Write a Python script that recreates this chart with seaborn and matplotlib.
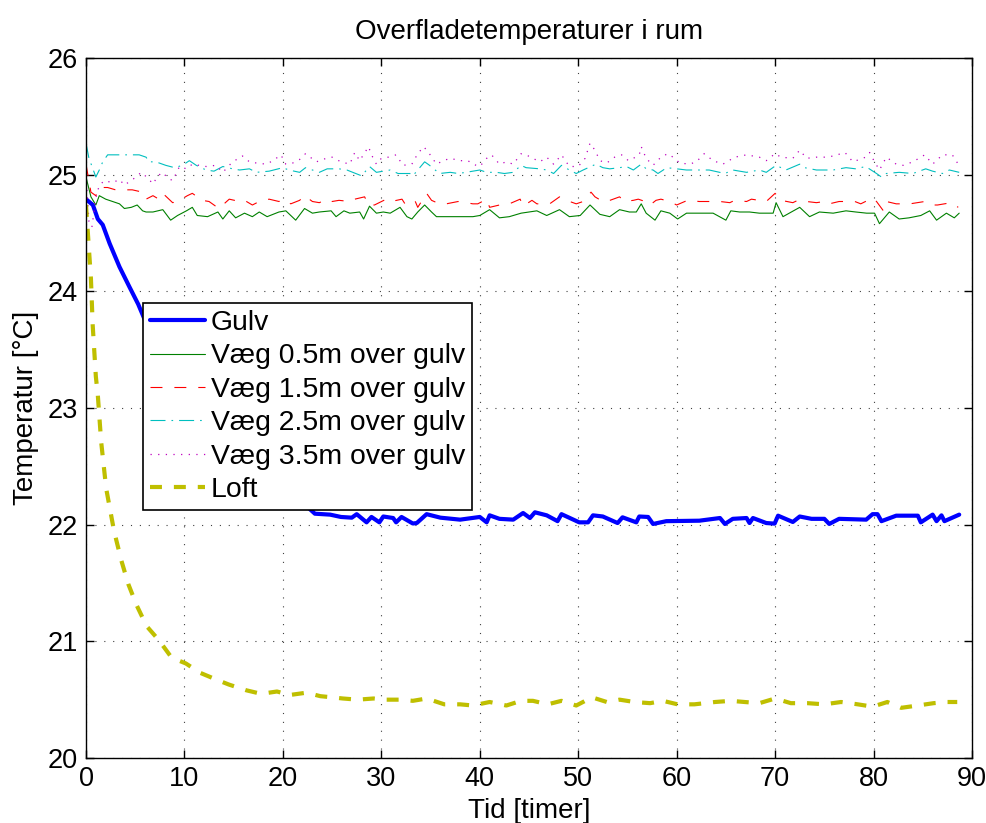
import matplotlib
matplotlib.use('Agg')
import matplotlib.pyplot as plt
import seaborn as sns
import pandas as pd

# ---------------- data ----------------
title = "Overfladetemperaturer i rum"
xlabel = "Tid [timer]"
ylabel = "Temperatur [°C]"
xticks = [0, 10, 20, 30, 40, 50, 60, 70, 80, 90]
yticks = [20, 21, 22, 23, 24, 25, 26]

gulv_x = [0, 0.7, 1.2, 1.7, 2.4, 3.4, 4.4, 5.3, 6, 7, 8, 9, 10, 11, 12, 13, 14, 15, 16, 17, 18, 19, 20,
          21, 22, 23.25, 24.8, 25.9, 27.0, 27.5, 28.5, 29.0, 29.8, 30.2, 31.2, 31.5, 32.05, 33.2, 33.6,
          34.6, 36.0, 38.0, 40.0, 40.7, 41.0, 42.0, 43.4, 44.4, 45.1, 45.6, 46.8, 47.9, 48.3, 50.1,
          51.0, 51.5, 52.5, 54.0, 54.5, 55.9, 56.2, 57.1, 57.6, 58.95, 62.3, 64.4, 64.9, 65.7, 67.1,
          67.4, 67.75, 69.1, 69.95, 70.3, 71.8, 72.5, 73.7, 75.0, 75.5, 76.5, 79.25, 79.9, 80.4, 80.8,
          82.3, 84.5, 84.8, 86.0, 86.4, 86.9, 87.2, 88.7]
gulv_y = [24.79, 24.74, 24.62, 24.57, 24.41, 24.21, 24.04, 23.89, 23.75, 23.57, 23.4, 23.24, 23.1,
          22.97, 22.86, 22.76, 22.67, 22.59, 22.52, 22.46, 22.4, 22.34, 22.29, 22.24, 22.19, 22.094,
          22.086, 22.066, 22.06, 22.09, 22.02, 22.066, 22.02, 22.07, 22.057, 22.02, 22.066, 22.01,
          22.014, 22.09, 22.06, 22.043, 22.066, 22.02, 22.08, 22.05, 22.043, 22.1, 22.057, 22.106,
          22.08, 22.03, 22.09, 22.02, 22.02, 22.08, 22.07, 22.014, 22.063, 22.02, 22.07, 22.066,
          22.006, 22.03, 22.034, 22.057, 22.006, 22.05, 22.057, 22.014, 22.057, 22.014, 22.009,
          22.077, 22.023, 22.07, 22.05, 22.05, 22.006, 22.05, 22.043, 22.09, 22.09, 22.03, 22.077,
          22.077, 22.02, 22.086, 22.03, 22.08, 22.03, 22.086]

v05_x = [0, 0.5, 1.0, 1.35, 2.0, 2.7, 3.4, 3.9, 4.6, 5.2, 5.75, 6.1, 6.8, 7.8, 8.6, 9.3, 10.2, 10.8,
         11.3, 12.35, 13.4, 13.9, 14.55, 15.2, 16.1, 16.9, 17.6, 18.4, 19.6, 20.3, 21.3, 22.2, 23.0,
         23.7, 24.9, 25.4, 26.2, 26.8, 27.8, 28.2, 28.8, 29.5, 30.2, 30.9, 31.9, 32.6, 33.1, 33.7,
         34.4, 35.1, 35.6, 36.6, 38.0, 39.3, 40.0, 41.0, 42.0, 43.0, 44.2, 45.8, 46.8, 48.1, 49.1,
         50.2, 51.2, 52.2, 53.2, 54.2, 55.2, 55.9, 56.4, 56.9, 57.8, 58.4, 59.3, 60.1, 61.0, 62.3,
         63.7, 65.0, 65.5, 66.4, 67.4, 68.4, 69.8, 70.1, 70.8, 72.5, 73.5, 74.5, 75.9, 77.2, 78.2,
         79.3, 80.1, 80.6, 81.6, 82.6, 83.6, 84.8, 85.7, 86.4, 87.4, 88.2, 88.7]
v05_y = [24.98, 24.81, 24.74, 24.82, 24.79, 24.77, 24.75, 24.71, 24.72, 24.74, 24.69, 24.68, 24.68,
         24.7, 24.61, 24.65, 24.69, 24.72, 24.65, 24.64, 24.68, 24.62, 24.69, 24.63, 24.67, 24.64,
         24.68, 24.64, 24.68, 24.69, 24.61, 24.71, 24.67, 24.68, 24.69, 24.64, 24.69, 24.67, 24.68,
         24.62, 24.73, 24.67, 24.68, 24.67, 24.72, 24.64, 24.62, 24.68, 24.74, 24.68, 24.64, 24.64,
         24.64, 24.64, 24.65, 24.7, 24.63, 24.64, 24.67, 24.69, 24.65, 24.7, 24.64, 24.65, 24.74,
         24.66, 24.64, 24.7, 24.68, 24.68, 24.75, 24.67, 24.61, 24.69, 24.67, 24.62, 24.67, 24.67,
         24.67, 24.61, 24.69, 24.68, 24.68, 24.67, 24.67, 24.76, 24.64, 24.72, 24.64, 24.68, 24.67,
         24.69, 24.68, 24.67, 24.67, 24.58, 24.68, 24.62, 24.63, 24.65, 24.69, 24.61, 24.67, 24.63,
         24.67]

v15_x = [0, 0.5, 1.0, 1.35, 2.2, 3.0, 4.1, 4.7, 5.75, 6.1, 6.8, 7.4, 7.8, 8.8, 9.3, 10.3, 10.8, 11.8,
         12.5, 13.5, 14.55, 15.6, 16.1, 16.9, 17.6, 18.6, 19.6, 20.0, 20.8, 21.7, 22.2, 23.0, 23.7,
         24.5, 25.0, 25.7, 26.8, 27.3, 28.3, 28.7, 29.3, 30.5, 31.0, 32.1, 32.4, 33.4, 33.7, 34.6,
         35.1, 35.9, 36.6, 37.8, 38.6, 39.3, 39.8, 40.7, 41.0, 42.0, 43.0, 44.1, 44.4, 45.3, 45.8,
         47.1, 48.1, 48.8, 49.8, 50.5, 51.3, 51.7, 52.5, 52.9, 54.2, 54.7, 55.6, 56.1, 56.8, 57.3,
         57.9, 58.4, 59.3, 60.0, 61.1, 62.3, 63.3, 64.4, 65.4, 65.9, 67.1, 67.6, 69.1, 70.0, 70.6,
         71.8, 72.3, 73.2, 74.2, 75.0, 75.5, 76.5, 77.0, 78.1, 78.7, 79.9, 80.3, 81.0, 81.3, 82.3,
         83.7, 85.2, 86.0, 86.5, 87.9, 88.6]
v15_y = [25.09, 24.85, 24.82, 24.89, 24.89, 24.87, 24.87, 24.87, 24.85, 24.79, 24.82, 24.79, 24.84,
         24.76, 24.77, 24.82, 24.84, 24.78, 24.77, 24.71, 24.79, 24.77, 24.78, 24.74, 24.77, 24.79,
         24.77, 24.79, 24.75, 24.78, 24.82, 24.77, 24.76, 24.79, 24.77, 24.78, 24.77, 24.79, 24.81,
         24.74, 24.74, 24.79, 24.77, 24.79, 24.75, 24.78, 24.72, 24.84, 24.78, 24.75, 24.75, 24.77,
         24.76, 24.75, 24.75, 24.79, 24.72, 24.74, 24.75, 24.79, 24.73, 24.78, 24.75, 24.75, 24.81,
         24.78, 24.75, 24.77, 24.85, 24.81, 24.77, 24.77, 24.81, 24.77, 24.78, 24.79, 24.77, 24.74,
         24.78, 24.79, 24.77, 24.74, 24.78, 24.77, 24.77, 24.77, 24.76, 24.78, 24.77, 24.79, 24.77,
         24.84, 24.78, 24.76, 24.78, 24.77, 24.76, 24.77, 24.75, 24.77, 24.77, 24.77, 24.75, 24.8,
         24.77, 24.69, 24.77, 24.75, 24.75, 24.77, 24.74, 24.74, 24.76, 24.72]

v25_x = [0, 0.3, 0.7, 1.0, 1.35, 1.7, 2.2, 3.0, 3.7, 4.6, 5.4, 6.1, 6.4, 7.1, 8.1, 9.0, 9.8, 10.5,
         11.2, 12.2, 13.0, 13.9, 14.9, 15.6, 16.6, 17.3, 18.6, 20.0, 20.6, 21.7, 22.3, 23.7, 24.5,
         25.7, 26.5, 27.1, 28.0, 28.8, 29.5, 30.9, 31.7, 32.9, 33.2, 34.4, 34.9, 35.9, 37.0, 37.8,
         38.6, 40.0, 40.7, 41.7, 42.5, 43.4, 44.2, 44.7, 46.1, 46.8, 47.5, 48.3, 49.1, 49.8, 50.5,
         51.8, 52.5, 53.2, 54.2, 54.9, 55.6, 56.4, 56.9, 57.6, 58.1, 59.0, 60.0, 61.0, 62.7, 63.3,
         64.9, 65.7, 67.1, 68.4, 69.1, 70.1, 71.1, 72.5, 73.0, 74.2, 75.9, 77.2, 78.2, 79.2, 80.3,
         80.8, 81.3, 82.6, 84.0, 85.3, 86.0, 87.0, 87.7, 88.7]
v25_y = [25.27, 25.14, 25.05, 24.98, 25.04, 25.11, 25.17, 25.17, 25.17, 25.17, 25.17, 25.15, 25.11,
         25.11, 25.08, 25.06, 25.08, 25.12, 25.08, 25.04, 25.03, 25.07, 25.05, 25.04, 25.05, 25.02,
         25.03, 25.06, 25.04, 25.02, 25.06, 25.02, 25.05, 25.05, 25.04, 25.02, 24.99, 25.07, 25.02,
         25.04, 25.01, 25.01, 24.99, 25.11, 25.08, 25.01, 25.02, 25.01, 25.02, 25.04, 25.02, 25.02,
         25.01, 25.02, 25.08, 25.06, 25.05, 25.04, 25.01, 25.08, 25.04, 25.01, 25.04, 25.09, 25.06,
         25.05, 25.06, 25.07, 25.04, 25.09, 25.05, 25.04, 25.01, 25.06, 25.05, 25.04, 25.04, 25.04,
         25.01, 25.04, 25.02, 25.04, 25.02, 25.08, 25.04, 25.09, 25.06, 25.04, 25.04, 25.06, 25.05,
         25.07, 25.01, 24.98, 25.01, 25.02, 25.01, 25.05, 25.03, 25.01, 25.04, 25.02]

v35_x = [0, 0.3, 0.6, 1.0, 1.35, 1.9, 2.7, 3.4, 3.9, 4.4, 5.1, 5.6, 6.3, 6.8, 7.3, 7.8, 8.3, 8.8,
         9.5, 10.2, 10.8, 11.5, 12.2, 13.2, 13.9, 14.55, 14.9, 15.9, 16.6, 17.3, 18.3, 19.0, 19.8,
         20.3, 21.0, 21.7, 22.3, 23.4, 24.4, 25.0, 25.9, 26.8, 27.3, 27.8, 28.7, 29.0, 29.5, 30.0,
         30.7, 31.5, 32.2, 33.1, 33.7, 34.3, 34.8, 35.6, 36.3, 37.0, 38.0, 38.8, 39.3, 40.0, 40.7,
         41.2, 42.0, 42.7, 43.4, 44.2, 44.7, 45.4, 46.1, 46.8, 47.5, 48.3, 49.1, 50.0, 50.7, 51.2,
         51.7, 52.2, 52.9, 53.7, 54.4, 55.1, 55.6, 56.2, 56.4, 56.9, 57.6, 58.4, 59.1, 59.8, 60.3,
         61.3, 62.0, 62.8, 63.7, 64.7, 65.9, 67.1, 68.4, 69.1, 70.0, 70.6, 71.8, 72.5, 73.2, 74.2,
         75.2, 75.9, 77.1, 77.9, 79.2, 79.6, 80.1, 80.6, 81.3, 82.3, 83.0, 84.0, 85.2, 86.0, 87.0,
         88.0, 88.6]
v35_y = [25.0, 24.6, 24.55, 24.8, 24.91, 24.95, 24.93, 24.96, 24.91, 24.94, 24.98, 25.02, 24.97,
         24.92, 24.99, 25.02, 24.97, 24.95, 25.07, 25.05, 25.09, 25.08, 25.07, 25.08, 25.02, 25.08,
         25.11, 25.16, 25.11, 25.1, 25.09, 25.12, 25.17, 25.09, 25.1, 25.13, 25.18, 25.11, 25.14,
         25.15, 25.11, 25.09, 25.19, 25.12, 25.24, 25.17, 25.09, 25.14, 25.15, 25.17, 25.08, 25.09,
         25.18, 25.24, 25.19, 25.09, 25.12, 25.14, 25.12, 25.12, 25.09, 25.07, 25.14, 25.17, 25.09,
         25.11, 25.09, 25.18, 25.17, 25.14, 25.11, 25.15, 25.09, 25.17, 25.07, 25.07, 25.14, 25.27,
         25.21, 25.12, 25.1, 25.15, 25.17, 25.12, 25.14, 25.17, 25.24, 25.14, 25.08, 25.15, 25.18,
         25.14, 25.1, 25.09, 25.11, 25.18, 25.12, 25.09, 25.15, 25.17, 25.15, 25.12, 25.18, 25.15,
         25.14, 25.21, 25.14, 25.15, 25.15, 25.16, 25.19, 25.11, 25.15, 25.19, 25.11, 25.04, 25.15,
         25.09, 25.08, 25.11, 25.17, 25.09, 25.17, 25.17, 25.09]

loft_x = [0, 0.34, 0.5, 0.68, 1.0, 1.2, 1.54, 2.05, 2.73, 3.07, 3.6, 4.3, 5.14, 6.16, 7.4, 8.7, 10.15,
          11.6, 13.3, 14.5, 16.3, 17.8, 19.4, 20.7, 22.4, 23.8, 25.0, 26.1, 27.6, 29.2, 30.4, 31.9,
          33.2, 34.6, 36.4, 38.0, 39.3, 41.0, 42.7, 44.2, 45.4, 46.9, 48.3, 49.8, 51.4, 52.9, 54.2,
          55.7, 57.3, 58.6, 60.1, 61.8, 63.9, 65.5, 66.9, 68.4, 70.0, 71.6, 73.3, 75.0, 76.7, 78.4,
          79.9, 81.4, 82.8, 84.5, 86.1, 87.5, 88.5]
loft_y = [24.74, 24.31, 24.11, 23.71, 23.27, 23.11, 22.71, 22.31, 22.0, 21.87, 21.69, 21.49, 21.31,
          21.13, 21.01, 20.86, 20.81, 20.73, 20.67, 20.63, 20.58, 20.55, 20.57, 20.54, 20.56, 20.53,
          20.52, 20.51, 20.5, 20.51, 20.5, 20.5, 20.49, 20.51, 20.46, 20.46, 20.45, 20.48, 20.45,
          20.49, 20.49, 20.46, 20.49, 20.45, 20.52, 20.48, 20.5, 20.48, 20.47, 20.49, 20.46, 20.46,
          20.48, 20.49, 20.48, 20.47, 20.51, 20.47, 20.47, 20.46, 20.48, 20.46, 20.44, 20.48, 20.43,
          20.45, 20.47, 20.48, 20.48]

labels = ["Gulv", "Væg 0.5m over gulv", "Væg 1.5m over gulv", "Væg 2.5m over gulv",
          "Væg 3.5m over gulv", "Loft"]

# ---------------- style ----------------
sns.set_theme(style="white")
plt.rcParams['font.family'] = ['Liberation Sans', 'DejaVu Sans']
plt.rcParams['lines.scale_dashes'] = False
plt.rcParams['axes.edgecolor'] = 'black'
plt.rcParams['text.color'] = 'black'
plt.rcParams['axes.labelcolor'] = 'black'
plt.rcParams['xtick.color'] = 'black'
plt.rcParams['ytick.color'] = 'black'

fig = plt.figure(figsize=(9.86, 8.23), dpi=100)
ax = fig.add_axes([86 / 986, 1 - 758 / 823, 886 / 986, 700 / 823])

series = [
    (gulv_x, gulv_y, labels[0], (0, 0, 1), 3.0, '-'),
    (v05_x, v05_y, labels[1], (0, 0.5, 0), 0.8, '-'),
    (v15_x, v15_y, labels[2], (1, 0, 0), 0.8, (0, (8.6, 8.6))),
    (v25_x, v25_y, labels[3], (0, 0.75, 0.75), 0.8, (0, (10.8, 4.3, 1.2, 4.3))),
    (v35_x, v35_y, labels[4], (0.75, 0, 0.75), 0.9, (0, (0.9, 4.6))),
    (loft_x, loft_y, labels[5], (0.75, 0.75, 0), 3.0, (0, (8.6, 8.6))),
]
for xs, ys, lab, col, lw, ls in series:
    sns.lineplot(x=xs, y=ys, ax=ax, color=col, linewidth=lw, linestyle=ls,
                 label=lab, estimator=None, sort=False)

ax.set_xlim(0, 90)
ax.set_ylim(20, 26)
ax.set_xticks(xticks)
ax.set_yticks(yticks)
ax.grid(True, color='0.25', linestyle=(0, (0.8, 5.6)), linewidth=0.8)
ax.tick_params(direction='in', length=6, width=1, top=True, right=True, bottom=True, left=True,
               labelsize=19.5, colors='black')
ax.tick_params(axis='x', pad=6)
ax.tick_params(axis='y', pad=6)
for s in ax.spines.values():
    s.set_visible(True)
    s.set_color('black')
    s.set_linewidth(1.0)

ax.set_title(title, fontsize=20, pad=14)
ax.set_xlabel(xlabel, fontsize=20, labelpad=4)
ax.set_ylabel(ylabel, fontsize=20, labelpad=6)

leg = ax.legend(loc='upper left', bbox_to_anchor=(0.0643, 0.65), borderaxespad=0,
                fontsize=20.4, frameon=True, fancybox=False, framealpha=1,
                edgecolor='black', handlelength=1.95, handletextpad=0.2,
                labelspacing=0.26, borderpad=0.25)
leg.get_frame().set_linewidth(1.2)

fig.savefig("out.png", dpi=100, facecolor='white')
